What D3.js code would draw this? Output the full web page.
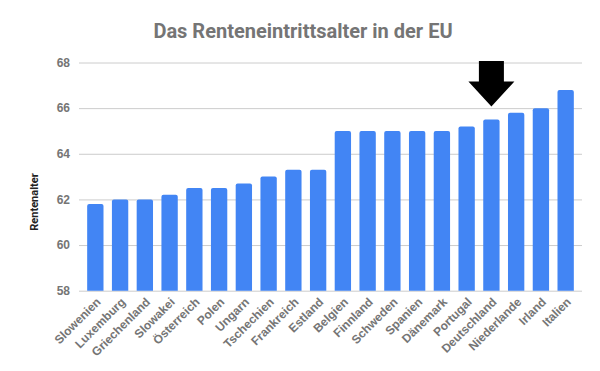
<!DOCTYPE html>
<meta charset="utf-8">
<style>
  body { margin: 0; background: #fff; font-family: Roboto, Arial, sans-serif; }
  .grid line { stroke: #cccccc; stroke-width: 1; }
  .grid path.domain { display: none; }
  .y-axis text, .x-axis text { fill: #757575; font-weight: bold; }
  .y-axis path, .y-axis line, .x-axis path, .x-axis line { display: none; }
</style>
<body></body>
<script src="https://cdn.jsdelivr.net/npm/d3@7"></script>
<script>

var countries = ["Slowenien", "Luxemburg", "Griechenland", "Slowakei", "Österreich",
  "Polen", "Ungarn", "Tschechien", "Frankreich", "Estland", "Belgien", "Finnland",
  "Schweden", "Spanien", "Dänemark", "Portugal", "Deutschland", "Niederlande",
  "Irland", "Italien"];
var ages = [61.8, 62, 62, 62.2, 62.5, 62.5, 62.7, 63, 63.3, 63.3, 65, 65, 65, 65, 65,
  65.2, 65.5, 65.8, 66, 66.8];
var yTicks = [58, 60, 62, 64, 66, 68];
var highlight = "Deutschland";

var width = 600, height = 371;
var margin = {top: 62.5, right: 18, bottom: 80, left: 79};
var w = width - margin.left - margin.right,
    h = 290.7 - margin.top;

var svg = d3.select("body").append("svg")
    .attr("width", width)
    .attr("height", height);

svg.append("text")
    .attr("x", 303)
    .attr("y", 38)
    .attr("text-anchor", "middle")
    .style("font-size", "20px")
    .style("font-weight", "bold")
    .style("fill", "#757575")
    .text("Das Renteneintrittsalter in der EU");

svg.append("text")
    .attr("transform", "translate(38,202) rotate(-90)")
    .attr("text-anchor", "middle")
    .style("font-size", "11px")
    .style("font-weight", "bold")
    .style("fill", "#222")
    .text("Rentenalter");

var g = svg.append("g")
    .attr("transform", "translate(" + margin.left + "," + margin.top + ")");

var x = d3.scaleBand()
    .domain(countries)
    .range([0, w])
    .paddingInner(0.34)
    .paddingOuter(0.33);

var y = d3.scaleLinear()
    .domain([58, 68])
    .range([h, 0]);

g.append("g")
    .attr("class", "grid")
    .call(d3.axisLeft(y).tickValues(yTicks).tickSize(-w).tickFormat(""));

g.append("g")
    .attr("class", "y-axis")
    .call(d3.axisLeft(y).tickValues(yTicks).tickSize(0).tickPadding(9))
    .selectAll("text")
    .style("font-size", "12px");

var r = 2;
g.selectAll("path.bar")
    .data(countries)
    .enter()
    .append("path")
    .attr("class", "bar")
    .attr("fill", "#4285f4")
    .attr("d", function(d, i) {
      var x0 = x(d), bw = x.bandwidth(), y0 = y(ages[i]), y1 = y(58);
      return "M" + x0 + "," + y1 +
        "V" + (y0 + r) + "Q" + x0 + "," + y0 + " " + (x0 + r) + "," + y0 +
        "H" + (x0 + bw - r) + "Q" + (x0 + bw) + "," + y0 + " " + (x0 + bw) + "," + (y0 + r) +
        "V" + y1 + "Z";
    });

var xa = g.append("g")
    .attr("class", "x-axis")
    .attr("transform", "translate(0," + h + ")")
    .call(d3.axisBottom(x).tickSize(0).tickPadding(0));

xa.selectAll("text")
    .style("font-size", "12px")
    .attr("text-anchor", "end")
    .attr("dy", 0)
    .attr("transform", "translate(6,12) rotate(-45)");

// arrow pointing at the highlighted bar
var cx = x(highlight) + x.bandwidth() / 2;
var tipY = y(ages[countries.indexOf(highlight)]) - 13;
var top0 = 61 - margin.top, shoulder = 81.5 - margin.top;
var arrow = [
  [cx - 12.5, top0], [cx + 12.5, top0],
  [cx + 12.5, shoulder], [cx + 23, shoulder],
  [cx, tipY], [cx - 23, shoulder], [cx - 12.5, shoulder]
];
g.append("path")
    .attr("d", d3.line()(arrow) + "Z")
    .attr("fill", "#000");

</script>
